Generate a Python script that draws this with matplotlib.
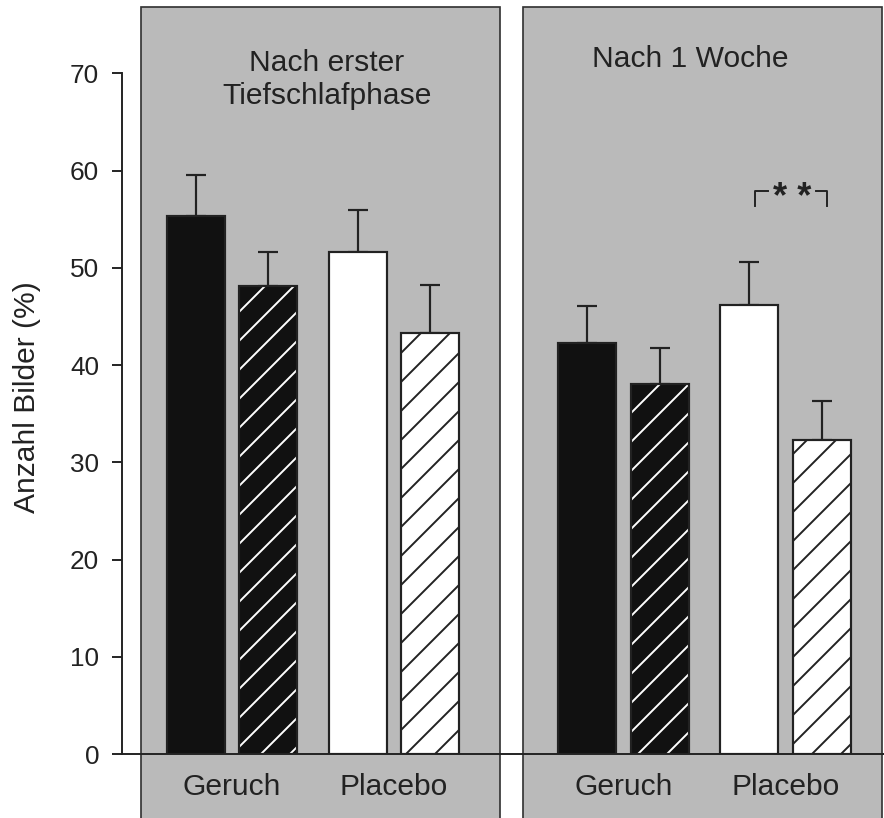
import matplotlib
matplotlib.use('Agg')
import matplotlib.pyplot as plt
from matplotlib.patches import Rectangle
import numpy as np

plt.rcParams['font.family'] = ['Liberation Sans', 'DejaVu Sans']
plt.rcParams['hatch.linewidth'] = 0.8

# data
panel_titles = ['Nach erster\nTiefschlafphase', 'Nach 1 Woche']
group_labels = ['Geruch', 'Placebo']
mittel_tief = [55.3, 48.1, 51.6, 43.3]
fehler_tief = [4.2, 3.5, 4.3, 4.9]
mittel_woche = [42.3, 38.1, 46.2, 32.3]
fehler_woche = [3.8, 3.7, 4.4, 4.0]
signif_text = '* *'

# layout (x in figure pixels, y in data units)
DPI = 174
W, H = 884, 818
Y0_PX, Y70_PX = 754, 73.3
panel_left = [141, 522.5]
panel_width = 359
first_bar = [195.7, 587.3]
offsets = [0, 72.7, 161.8, 234.5]
bar_w = 58
grau = '#bababa'
dunkel = '#222222'

stile = [
    dict(face='#111111', hatch=None, hcol=None),
    dict(face='#111111', hatch='//', hcol='white'),
    dict(face='white', hatch=None, hcol=None),
    dict(face='white', hatch='//', hcol=dunkel),
]

fig = plt.figure(figsize=(W / DPI, H / DPI), dpi=DPI)
ax = fig.add_axes([122 / W, 1 - Y0_PX / H, (W - 122) / W, (Y0_PX - Y70_PX) / H])
ax.patch.set_visible(False)
ax.set_xlim(122, W)
ax.set_ylim(0, 70)
px_per_unit = (Y0_PX - Y70_PX) / 70

def y_from_px(py):
    return (Y0_PX - py) / px_per_unit

# grey panels
for pl in panel_left:
    ax.add_patch(Rectangle((pl, -12), panel_width, y_from_px(7) + 12,
                           facecolor=grau, edgecolor='#333333', lw=0.7,
                           zorder=0.5, clip_on=False))

for p, (mittel, fehler) in enumerate([(mittel_tief, fehler_tief),
                                      (mittel_woche, fehler_woche)]):
    xs = [first_bar[p] + o for o in offsets]
    for x, m, st in zip(xs, mittel, stile):
        if st['hatch']:
            ax.bar(x, m, width=bar_w, color=st['face'], edgecolor=st['hcol'],
                   hatch=st['hatch'], lw=0, zorder=2)
            ax.bar(x, m, width=bar_w, fill=False, edgecolor=dunkel, lw=0.9, zorder=2.1)
        else:
            ax.bar(x, m, width=bar_w, color=st['face'], edgecolor=dunkel, lw=0.9, zorder=2)
    ax.errorbar(xs, mittel, yerr=[np.zeros(4), fehler], fmt='none', ecolor=dunkel,
                elinewidth=0.9, capsize=4.1, capthick=0.9, zorder=1.8)

# panel titles
ax.text(327, y_from_px(49), panel_titles[0], ha='center', va='top', fontsize=12.4,
        linespacing=1.25, color=dunkel)
ax.text(690, y_from_px(45), panel_titles[1], ha='center', va='top', fontsize=12.4,
        color=dunkel)

# significance bracket
yb, yl = y_from_px(190.7), y_from_px(206)
ax.plot([755, 755, 768], [yl, yb, yb], color=dunkel, lw=0.8, clip_on=False)
ax.plot([816, 827, 827], [yb, yb, yl], color=dunkel, lw=0.8, clip_on=False)
ax.text(792, y_from_px(208), signif_text, ha='center', va='baseline',
        fontsize=15, fontweight='bold', color=dunkel)

# x labels
pair_centers = []
for p in range(2):
    pair_centers.append(first_bar[p] + (offsets[0] + offsets[1]) / 2)
    pair_centers.append(first_bar[p] + (offsets[2] + offsets[3]) / 2)
ax.set_xticks(pair_centers, group_labels * 2)
ax.tick_params(axis='x', length=0, pad=8, labelsize=12.4, labelcolor=dunkel)

ax.set_yticks(range(0, 71, 10))
ax.tick_params(axis='y', direction='out', length=4.1, width=0.8, pad=5.4,
               labelsize=10.8, color=dunkel, labelcolor=dunkel)

for s in ['top', 'right']:
    ax.spines[s].set_visible(False)
for s in ['left', 'bottom']:
    ax.spines[s].set_linewidth(0.8)
    ax.spines[s].set_color(dunkel)
    ax.spines[s].set_zorder(3)

fig.text(27 / W, 1 - 397.5 / H, 'Anzahl Bilder (%)', rotation=90, ha='center',
         va='center', fontsize=12.4, color=dunkel)

fig.savefig('out.png', dpi=DPI)
